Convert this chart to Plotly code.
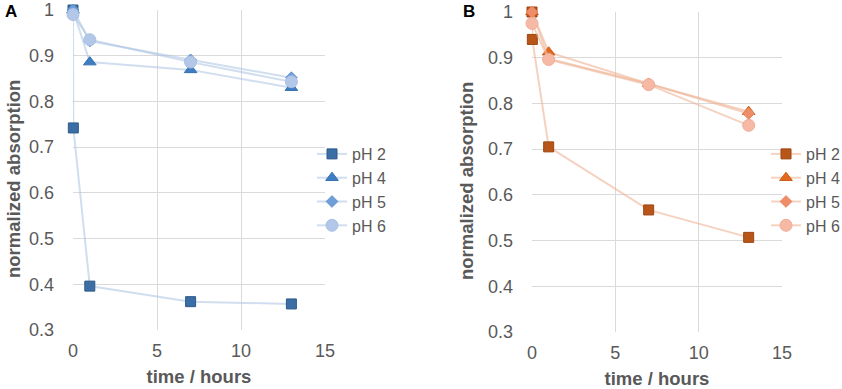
import plotly.graph_objects as go

# ---- data ----
series_names = ["pH 2", "pH 4", "pH 5", "pH 6"]

a_time = {
    "pH 2": [0, 0.02, 1, 7, 13],
    "pH 4": [0, 1, 7, 13],
    "pH 5": [0, 1, 7, 13],
    "pH 6": [0, 1, 7, 13],
}
a_vals = {
    "pH 2": [1.0, 0.742, 0.396, 0.362, 0.357],
    "pH 4": [1.0, 0.886, 0.869, 0.830],
    "pH 5": [1.0, 0.932, 0.891, 0.852],
    "pH 6": [0.99, 0.935, 0.886, 0.843],
}
b_time = {
    "pH 2": [0, 0.02, 1, 7, 13],
    "pH 4": [0, 1, 7, 13],
    "pH 5": [0, 1, 7, 13],
    "pH 6": [0, 1, 7, 13],
}
b_vals = {
    "pH 2": [1.0, 0.94, 0.705, 0.567, 0.507],
    "pH 4": [1.0, 0.912, 0.843, 0.782],
    "pH 5": [1.0, 0.898, 0.843, 0.778],
    "pH 6": [0.975, 0.896, 0.841, 0.752],
}

x_ticks = [0, 5, 10, 15]
y_ticks = [0.3, 0.4, 0.5, 0.6, 0.7, 0.8, 0.9, 1.0]
y_ticktext = ["0.3", "0.4", "0.5", "0.6", "0.7", "0.8", "0.9", "1"]
x_title = "time / hours"
y_title = "normalized absorption"

# ---- styles ----
symbols = {"pH 2": "square", "pH 4": "triangle-up", "pH 5": "diamond", "pH 6": "circle"}
sizes = {"pH 2": 10, "pH 4": 11, "pH 5": 9, "pH 6": 12}
a_colors = {"pH 2": "#3A6EA5", "pH 4": "#3F7DC3", "pH 5": "#6F9ED8", "pH 6": "#B3C8E8"}
a_edge = {"pH 2": "#2C5A8A", "pH 4": "#3570B0", "pH 5": "#6392CC", "pH 6": "#A9C0E3"}
a_line = "rgba(170,195,225,0.55)"
b_colors = {"pH 2": "#B8561A", "pH 4": "#E2691E", "pH 5": "#EE8E68", "pH 6": "#F5B9A5"}
b_edge = {"pH 2": "#9E4510", "pH 4": "#CF5C14", "pH 5": "#E5825C", "pH 6": "#F0AE98"}
b_line = "rgba(238,180,150,0.6)"

W, H = 842, 389
fig = go.Figure()

for name in series_names:
    fig.add_trace(go.Scatter(
        x=a_time[name], y=a_vals[name], name=name, mode="lines+markers",
        line=dict(color=a_line, width=2),
        marker=dict(symbol=symbols[name], size=sizes[name], color=a_colors[name],
                    line=dict(color=a_edge[name], width=1)),
        xaxis="x", yaxis="y", legend="legend", cliponaxis=False))
for name in series_names:
    fig.add_trace(go.Scatter(
        x=b_time[name], y=b_vals[name], name=name, mode="lines+markers",
        line=dict(color=b_line, width=2),
        marker=dict(symbol=symbols[name], size=sizes[name], color=b_colors[name],
                    line=dict(color=b_edge[name], width=1)),
        xaxis="x2", yaxis="y2", legend="legend2", cliponaxis=False))

grid = "#DADADA"
FAM = "Liberation Sans, Arial"
tickfont = dict(family=FAM, size=18, color="#595959")
titlefont = dict(family=FAM, size=18.5, color="#595959", weight="bold")

def xax(domain, anchor):
    return dict(domain=domain, anchor=anchor, range=[0, 15], tickvals=x_ticks,
                showgrid=True, gridcolor=grid, gridwidth=1, zeroline=False,
                showline=False, ticks="", tickfont=tickfont, ticklabelstandoff=8,
                automargin=False,
                title=dict(text=x_title, font=titlefont, standoff=10))

def yax(domain, anchor):
    return dict(domain=domain, anchor=anchor, range=[0.3, 1.0], tickvals=y_ticks,
                ticktext=y_ticktext, showgrid=True, gridcolor=grid, gridwidth=1,
                zeroline=False, showline=False, ticks="", tickfont=tickfont,
                ticklabelstandoff=18, automargin=False)

legfont = dict(family=FAM, size=16, color="#595959")

def ytitle(xpx, ypx):
    return dict(text=f"<b>{y_title}</b>", x=xpx / W, y=1 - ypx / H, xref="paper",
                yref="paper", xanchor="center", yanchor="middle", textangle=-90,
                showarrow=False, font=dict(family=FAM, size=18.5, color="#595959"))

fig.update_layout(
    width=W, height=H,
    margin=dict(l=0, r=0, t=0, b=0, autoexpand=False),
    paper_bgcolor="white", plot_bgcolor="white",
    xaxis=xax([73 / W, 325 / W], "y"),
    yaxis=yax([1 - 330 / H, 1 - 10 / H], "x"),
    xaxis2=xax([532 / W, 782 / W], "y2"),
    yaxis2=yax([1 - 332 / H, 1 - 12 / H], "x2"),
    legend=dict(x=312 / W, y=1 - 137 / H, xanchor="left", yanchor="top",
                font=legfont, bgcolor="rgba(0,0,0,0)", itemwidth=30,
                tracegroupgap=0),
    legend2=dict(x=766 / W, y=1 - 137 / H, xanchor="left", yanchor="top",
                 font=legfont, bgcolor="rgba(0,0,0,0)", itemwidth=30,
                 tracegroupgap=0),
    annotations=[
        dict(text="<b>A</b>", x=3 / W, y=1 - 12 / H, xref="paper", yref="paper",
             xanchor="left", yanchor="middle", showarrow=False,
             font=dict(family=FAM, size=17, color="black")),
        dict(text="<b>B</b>", x=461 / W, y=1 - 12 / H, xref="paper", yref="paper",
             xanchor="left", yanchor="middle", showarrow=False,
             font=dict(family=FAM, size=17, color="black")),
        ytitle(13, 179),
        ytitle(466, 181),
    ],
    showlegend=True,
)

fig.write_html("out.html", config={"displayModeBar": False},
               post_script="document.body.style.margin='0px';")
